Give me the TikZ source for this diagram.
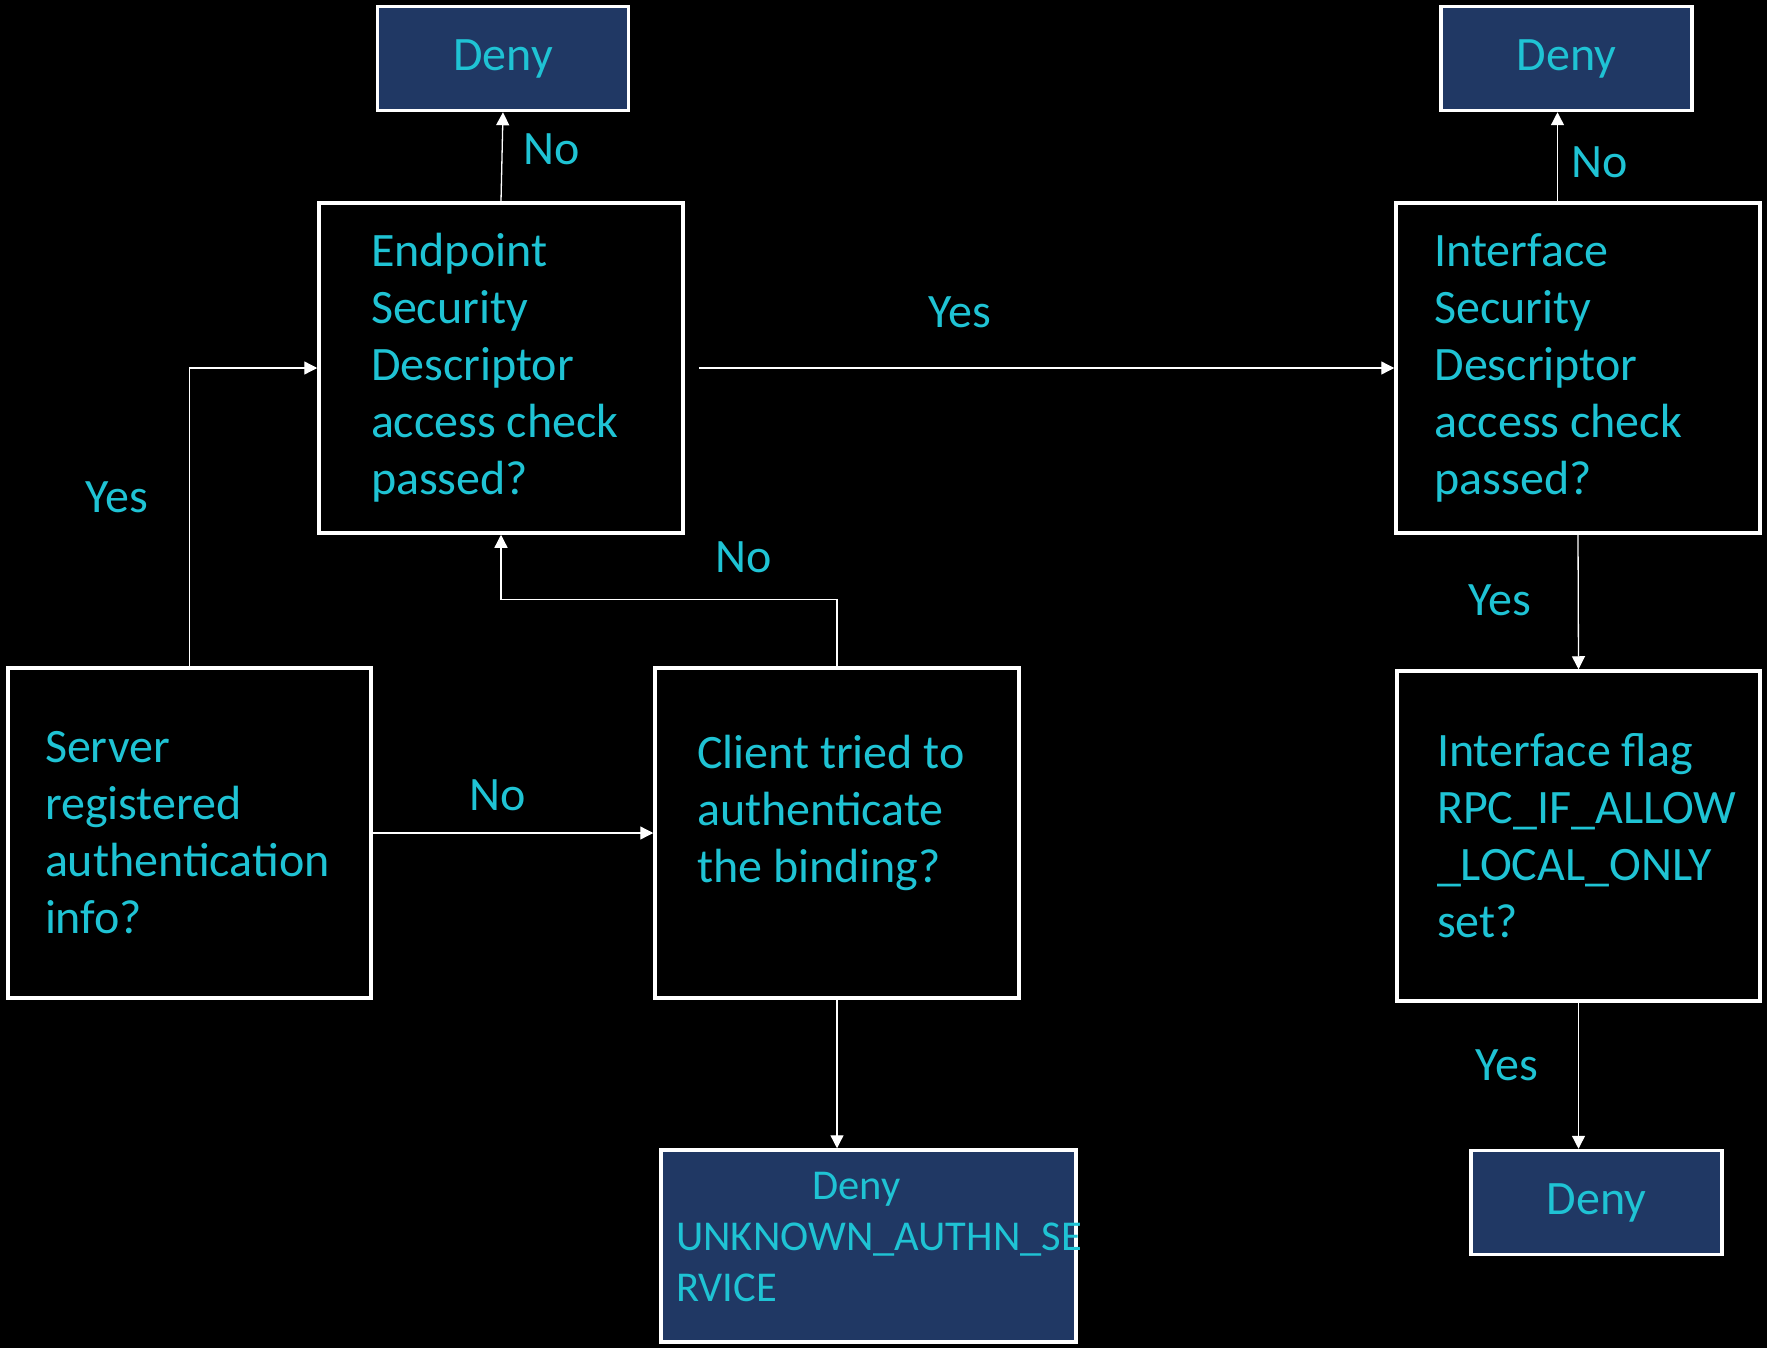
\documentclass[tikz,border=0pt]{standalone}
\usepackage{fontspec}
\setmainfont{Carlito}
\usetikzlibrary{arrows.meta}

\definecolor{denyfill}{HTML}{203864}
\definecolor{flowtxt}{HTML}{1FC3D4}

\begin{document}
\begin{tikzpicture}[x=1pt, y=-1pt,
  every node/.style={text=flowtxt, font=\fontsize{48}{57}\selectfont},
  qbox/.style={draw=white, line width=3.5pt, minimum width=364pt, minimum height=330pt, inner sep=0pt, align=flush left},
  denybox/.style={draw=white, line width=3.5pt, fill=denyfill, minimum width=251pt, minimum height=104pt, inner sep=0pt},
  flow/.style={draw=white, line width=1.3pt, -{Triangle[width=13pt,length=13pt]}}]
\fill[black] (0,0) rectangle (1767,1348);
% boxes
\node[denybox] (denyA) at (503,58.5) {Deny};
\node[denybox] (denyB) at (1566.5,58.5) {Deny};
\node[qbox, text width=260pt] (endpoint) at (501,368) {Endpoint\\Security\\Descriptor\\access check\\passed?};
\node[qbox, text width=287pt] (ifsd) at (1578,368) {Interface\\Security\\Descriptor\\access check\\passed?};
\node[qbox, minimum width=363pt, text width=289pt] (server) at (189.5,833) {Server\\registered\\authentication\\info?};
\node[qbox, text width=280pt] (client) at (837,833) {Client tried to\\authenticate\\the binding?\\[-9pt]\mbox{}};
\node[qbox, minimum width=363pt, text width=283pt] (ifflag) at (1578.5,836) {Interface flag\\\mbox{RPC\_IF\_ALLOW}\\\mbox{\_LOCAL\_ONLY}\\set?};
\node[denybox] (denyC) at (1596.5,1202.5) {Deny};
\node[denybox, minimum width=415pt, minimum height=192pt] (denyU) at (868.5,1246) {};
\node[anchor=north west, align=flush left, inner sep=0pt, font=\fontsize{42.5}{51}\selectfont] (denyUtxt) at (676,1172) {\hspace*{136pt}Deny\\UNKNOWN\_AUTHN\_SE\\RVICE};
% arrows
\draw[flow] (endpoint.north) -- (denyA.south);
\draw[flow] ([xshift=14pt]endpoint.east) -- (ifsd.west);
\draw[flow] ([xshift=-9pt]denyB.south |- ifsd.north) -- ([xshift=-9pt]denyB.south);
\draw[flow] (ifsd.south) -- (ifflag.north);
\draw[flow] (ifflag.south) -- (ifflag.south |- denyC.north);
\draw[flow] (server.north) |- (endpoint.west);
\draw[flow] (server.east) -- (client.west);
\draw[flow] (client.north) -- ++(0,-67) -| (endpoint.south);
\draw[flow] (client.south) -- (client.south |- denyU.north);
% labels
\node (noA) at (552,149) {No};
\node (yesA) at (960,312) {Yes};
\node (noB) at (1600,162) {No};
\node (yesB) at (1500,600) {Yes};
\node (yesC) at (1507,1065) {Yes};
\node (yesD) at (117,497) {Yes};
\node (noC) at (498,795) {No};
\node (noD) at (744,557) {No};
\end{tikzpicture}
\end{document}
